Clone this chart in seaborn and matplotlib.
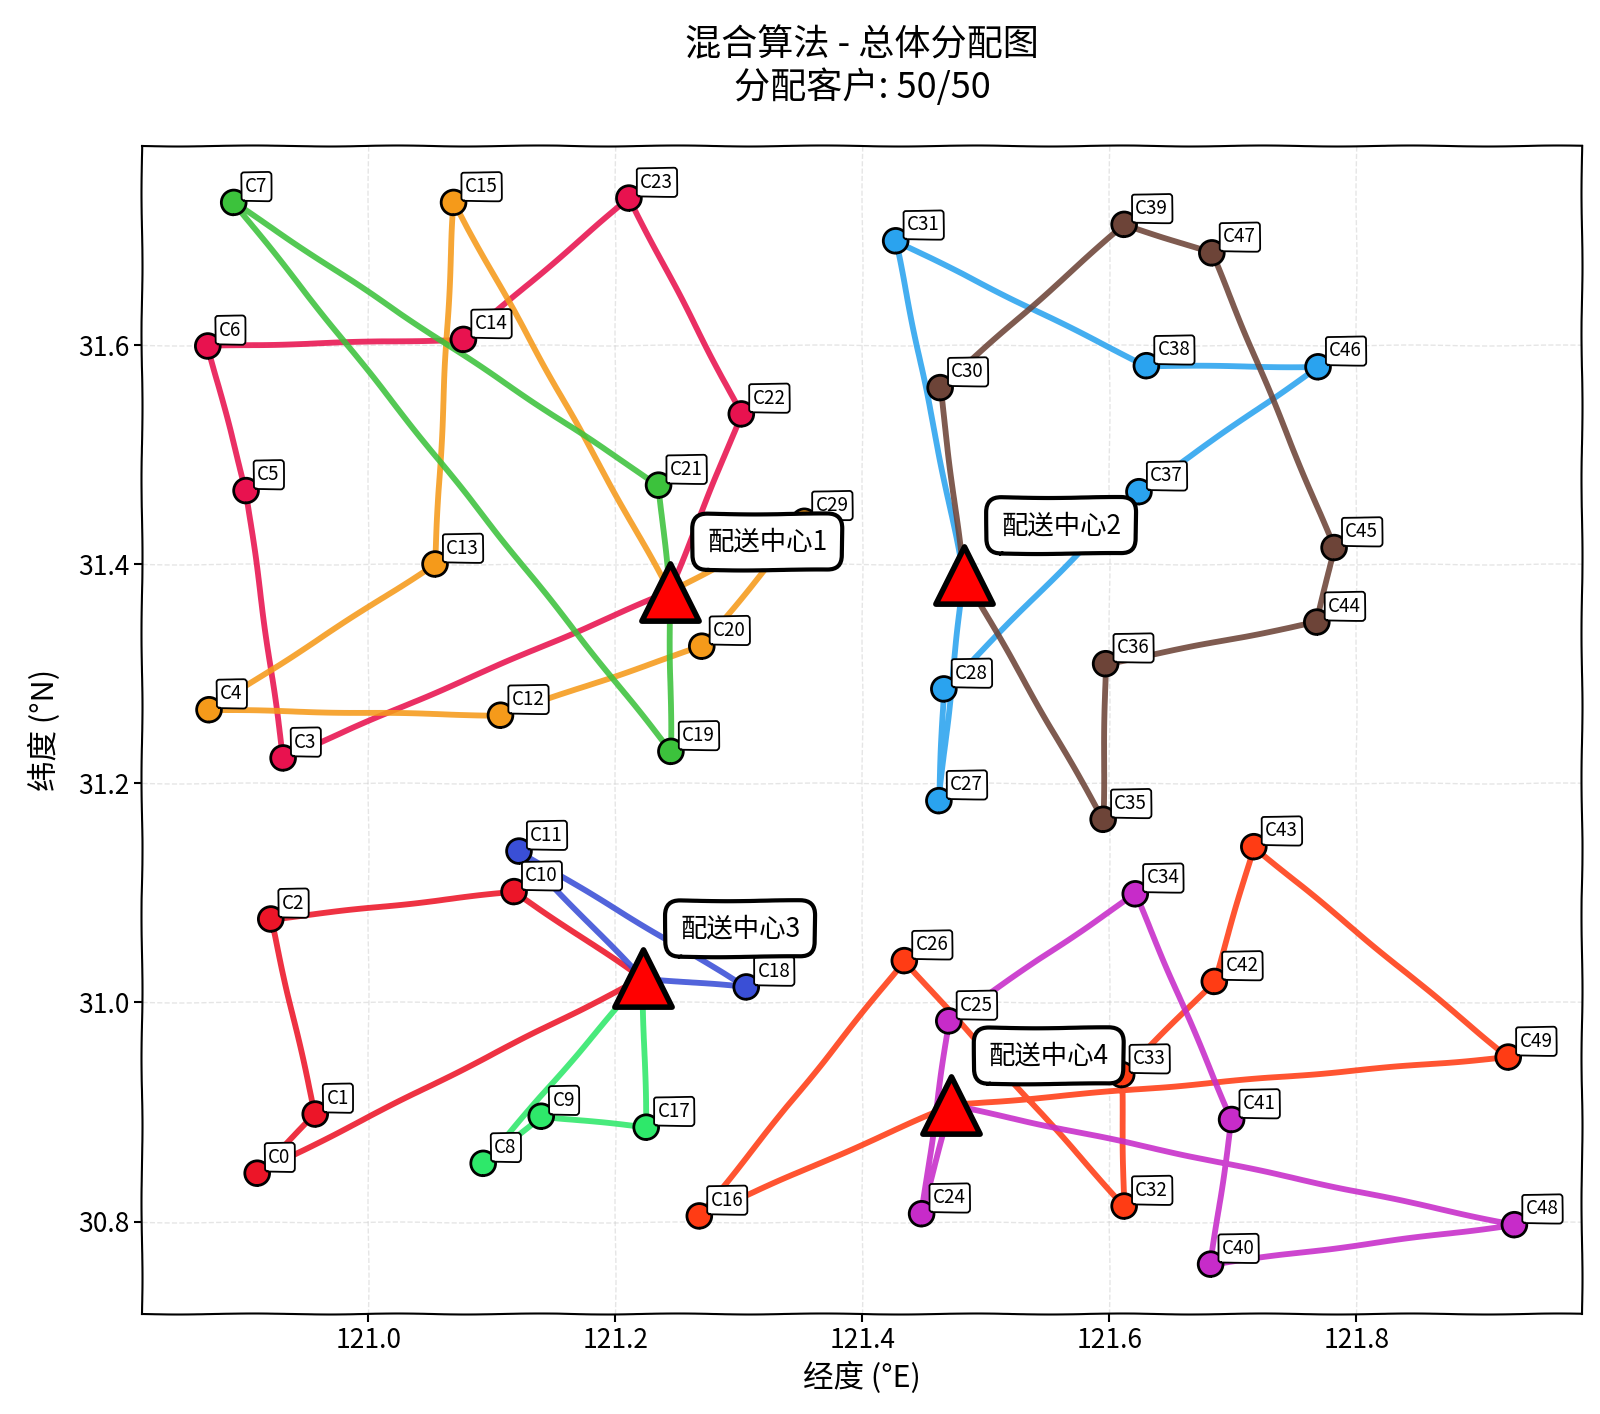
import numpy as np
import pandas as pd
import matplotlib
matplotlib.use("Agg")
import matplotlib.pyplot as plt
import seaborn as sns

# ---------------- data ----------------
cust_ids = [f"C{i}" for i in range(50)]
cust_lon = [120.910, 120.957, 120.921, 120.931, 120.871, 120.901, 120.870, 120.891,
            121.093, 121.140, 121.118, 121.122, 121.107, 121.054, 121.077, 121.069,
            121.268, 121.225, 121.306, 121.245, 121.270, 121.235, 121.302, 121.211,
            121.448, 121.470, 121.434, 121.462, 121.466, 121.353, 121.463, 121.427,
            121.612, 121.610, 121.621, 121.595, 121.597, 121.624, 121.630, 121.612,
            121.682, 121.699, 121.685, 121.717, 121.768, 121.782, 121.769, 121.683,
            121.928, 121.923]
cust_lat = [30.844, 30.898, 31.076, 31.223, 31.267, 31.467, 31.599, 31.730,
            30.853, 30.896, 31.101, 31.138, 31.262, 31.400, 31.605, 31.730,
            30.805, 30.886, 31.014, 31.229, 31.325, 31.472, 31.537, 31.734,
            30.807, 30.983, 31.038, 31.184, 31.286, 31.439, 31.561, 31.695,
            30.814, 30.934, 31.099, 31.167, 31.309, 31.466, 31.581, 31.710,
            30.761, 30.893, 31.019, 31.142, 31.347, 31.415, 31.580, 31.684,
            30.797, 30.950]

depot_names = ["配送中心1", "配送中心2", "配送中心3", "配送中心4"]
depot_lon = [121.244, 121.482, 121.222, 121.472]
depot_lat = [31.375, 31.390, 31.022, 30.906]

# routes: (depot index, customer sequence)
route_depot = [0, 0, 0, 1, 1, 2, 2, 2, 3, 3]
route_seq = [
    [22, 23, 14, 6, 5, 3],
    [15, 13, 4, 12, 20, 29],
    [21, 7, 19],
    [31, 38, 46, 37, 28, 27],
    [30, 39, 47, 45, 44, 36, 35],
    [10, 2, 1, 0],
    [11, 18],
    [17, 9, 8],
    [16, 26, 32, 33, 42, 43, 49],
    [24, 25, 34, 41, 40, 48],
]
route_colors = ["#e8124f", "#f59a1a", "#3cc23c", "#2aa3ef", "#6d4438",
                "#ec1528", "#3a4fd6", "#2ee86a", "#ff3c14", "#c72bc9"]

title_text = "混合算法 - 总体分配图\n分配客户: 50/50"
x_label = "经度 (°E)"
y_label = "纬度 (°N)"
x_ticks = [121.0, 121.2, 121.4, 121.6, 121.8]
y_ticks = [30.8, 31.0, 31.2, 31.4, 31.6]

# ---------------- style ----------------
plt.xkcd(scale=0.5, length=160, randomness=2)
plt.rcParams["path.effects"] = []
plt.rcParams["font.family"] = ["Noto Sans CJK SC", "DejaVu Sans"]
plt.rcParams["axes.unicode_minus"] = False

fig = plt.figure(figsize=(16, 14.14), dpi=100)
ax = fig.add_axes([0.089, 0.071, 0.900, 0.826])

# ---------------- routes ----------------
for r, (d, seq) in enumerate(zip(route_depot, route_seq)):
    xs = [depot_lon[d]] + [cust_lon[c] for c in seq] + [depot_lon[d]]
    ys = [depot_lat[d]] + [cust_lat[c] for c in seq] + [depot_lat[d]]
    df = pd.DataFrame({"lon": xs, "lat": ys})
    sns.lineplot(data=df, x="lon", y="lat", sort=False, estimator=None,
                 color=route_colors[r], linewidth=4.2, alpha=0.88, ax=ax, zorder=2)

# ---------------- customers ----------------
pt_color = {}
for r, seq in enumerate(route_seq):
    for c in seq:
        pt_color[c] = route_colors[r]
cdf = pd.DataFrame({"lon": cust_lon, "lat": cust_lat, "id": cust_ids})
sns.scatterplot(data=cdf, x="lon", y="lat", hue="id",
                palette={cust_ids[i]: pt_color[i] for i in range(50)},
                s=300, edgecolor="black", linewidth=2, legend=False, ax=ax, zorder=4)

for i in range(50):
    ax.annotate(cust_ids[i], (cust_lon[i], cust_lat[i]), xytext=(8, 4),
                textcoords="offset points", fontsize=13.5, ha="left", va="bottom",
                bbox=dict(boxstyle="round,pad=0.2,rounding_size=0.15", fc="white", ec="black", lw=1.3),
                zorder=6)

# ---------------- depots ----------------
ddf = pd.DataFrame({"lon": depot_lon, "lat": depot_lat})
sns.scatterplot(data=ddf, x="lon", y="lat", marker="^", s=1700, color="red",
                edgecolor="black", linewidth=4, legend=False, ax=ax, zorder=5)
for i in range(4):
    ax.annotate(depot_names[i], (depot_lon[i], depot_lat[i]), xytext=(27, 26),
                textcoords="offset points", fontsize=19, ha="left", va="bottom",
                bbox=dict(boxstyle="round,pad=0.55", fc="white", ec="black", lw=3),
                zorder=7)

# ---------------- axes ----------------
ax.set_xlim(120.817, 121.983)
ax.set_ylim(30.716, 31.782)
ax.set_xticks(x_ticks)
ax.set_yticks(y_ticks)
ax.set_xticklabels([f"{v:.1f}" for v in x_ticks], fontsize=19)
ax.set_yticklabels([f"{v:.1f}" for v in y_ticks], fontsize=19)
ax.tick_params(width=1.5, length=6)
ax.grid(True, linestyle="--", color="#cccccc", alpha=0.5, linewidth=1)
ax.set_xlabel(x_label, fontsize=22, labelpad=6)
ax.set_ylabel(y_label, fontsize=22, labelpad=12)
ax.set_title(title_text, fontsize=26, pad=34)
for sp in ax.spines.values():
    sp.set_linewidth(1.5)

fig.savefig("out.png", dpi=100, facecolor="white")
